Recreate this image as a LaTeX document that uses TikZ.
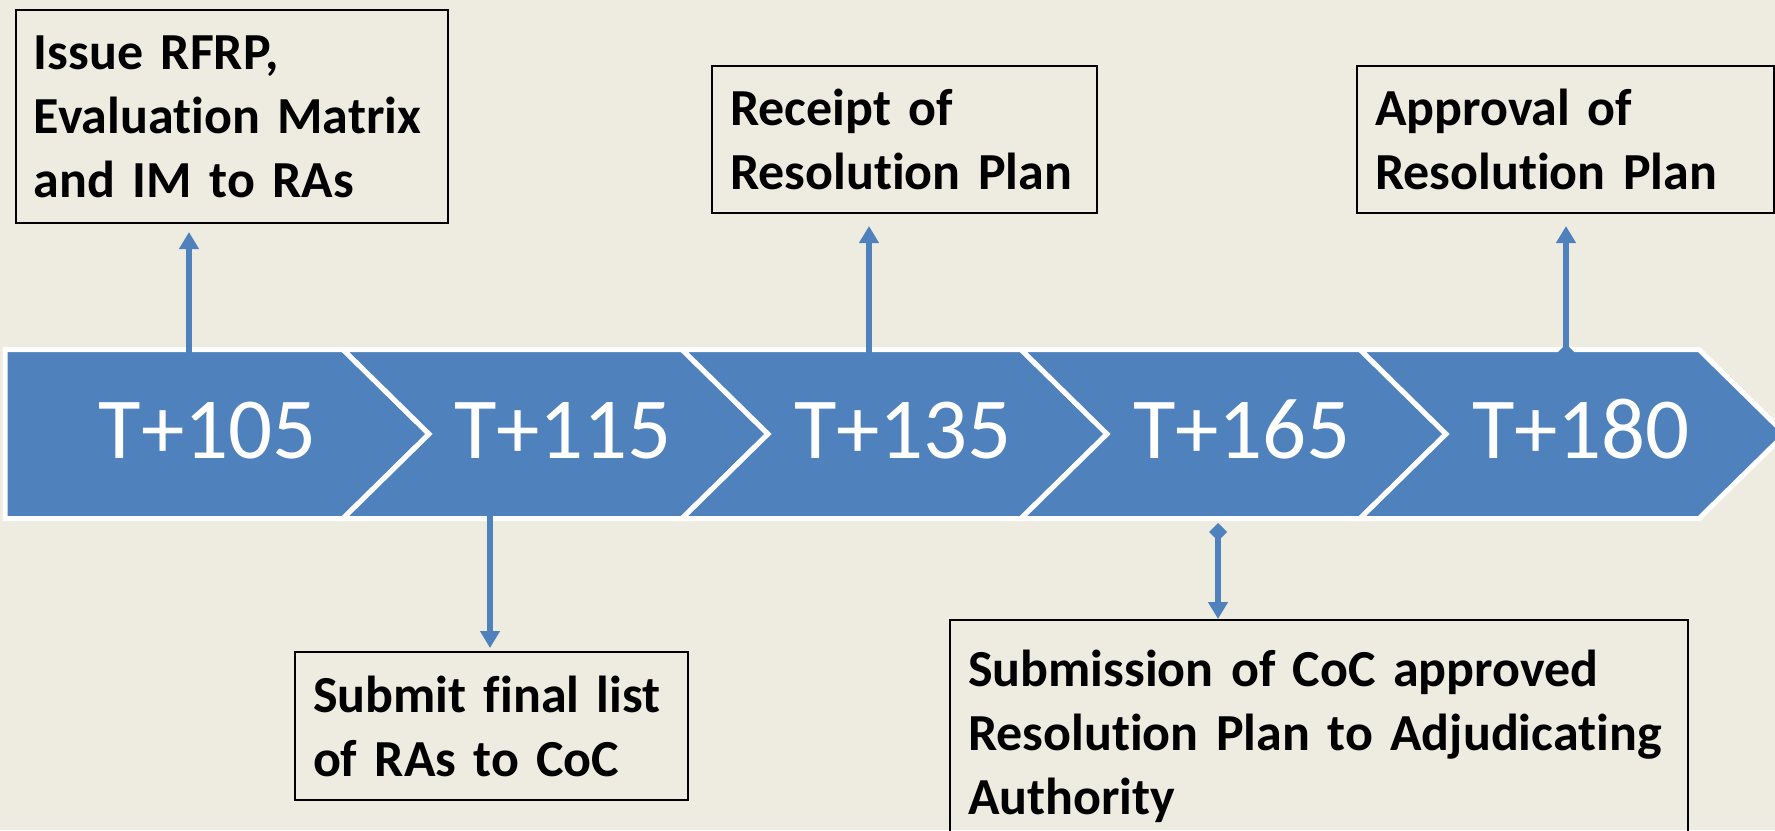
\documentclass[tikz,border=0pt]{standalone}
\usepackage{fontspec}
\setmainfont{Carlito}[Ligatures=NoCommon]
\usetikzlibrary{arrows.meta}
\definecolor{bgcol}{RGB}{238,236,225}
\definecolor{chev}{RGB}{79,129,189}
\hyphenpenalty=10000
\exhyphenpenalty=10000
\tikzset{
  chevron/.style={fill=chev, draw=white, line width=5pt, line join=miter},
  tlabel/.style={text=white, font=\fontsize{87}{87}\selectfont, anchor=base, inner sep=0pt},
  event/.style={draw=black, line width=2pt, anchor=north west, align=left,
    inner xsep=18pt, inner ysep=0pt, font=\fontsize{52}{64}\selectfont\bfseries},
  link/.style={draw=chev, line width=6pt,
    {Diamond[width=18pt,length=18pt]}-{Triangle[width=19pt,length=17pt]}},
}
\begin{document}
\begin{tikzpicture}[x=1pt,y=-1pt]
\useasboundingbox (0,0) rectangle (1775,830);
\clip (0,0) rectangle (1775,830);
\fill[bgcol] (0,0) rectangle (1775,830);
% chevrons
\draw[chevron] (5,349.5) -- (343,349.5) -- (429,434) -- (343,518.5) -- (5,518.5) -- cycle;
\foreach \i in {1,...,4}{
  \pgfmathsetmacro{\L}{343+(\i-1)*339}
  \pgfmathsetmacro{\R}{343+\i*339}
  \draw[chevron] (\L,349.5) -- (\R,349.5) -- (\R+86,434) -- (\R,518.5) -- (\L,518.5) -- (\L+86,434) -- cycle;
}
\node[tlabel] (t1) at (208,458) {T+105};
\node[tlabel] (t2) at (563,458) {T+115};
\node[tlabel] (t3) at (903,458) {T+135};
\node[tlabel] (t4) at (1242,458) {T+165};
\node[tlabel] (t5) at (1581,458) {T+180};
% event boxes
\node[event, minimum width=432, minimum height=213, text width=396] (b1) at (15,9)
  {Issue~RFRP,\\Evaluation~Matrix\\and~IM~to~RAs};
\node[event, minimum width=393, minimum height=148, text width=357] (b2) at (294,651)
  {Submit~final~list\\of~RAs~to~CoC};
\node[event, minimum width=385, minimum height=147, text width=349] (b3) at (711,65)
  {Receipt~of\\Resolution~Plan};
\node[event, minimum width=417, minimum height=147, text width=381] (b4) at (1356,65)
  {Approval~of\\Resolution~Plan};
\node[event, minimum width=738, minimum height=232, text width=702] (b5) at (949,619)
  {Submission~of~CoC~approved\\Resolution~Plan~to~Adjudicating\\Authority};
% connectors
\coordinate (s1) at (189,373);
\coordinate (s2) at (490,497);
\coordinate (s3) at (869,370);
\coordinate (s4) at (1566,362);
\coordinate (s5) at (1218,523);
\draw[link, shorten >=8pt] (s1) -- (s1 |- b1.south);
\draw[link, shorten >=3pt] (s2) -- (s2 |- b2.north);
\draw[link, shorten >=12pt] (s3) -- (s3 |- b3.south);
\draw[link, shorten >=12pt] (s4) -- (s4 |- b4.south);
\draw[link] (s5) -- (s5 |- b5.north);
\end{tikzpicture}
\end{document}
